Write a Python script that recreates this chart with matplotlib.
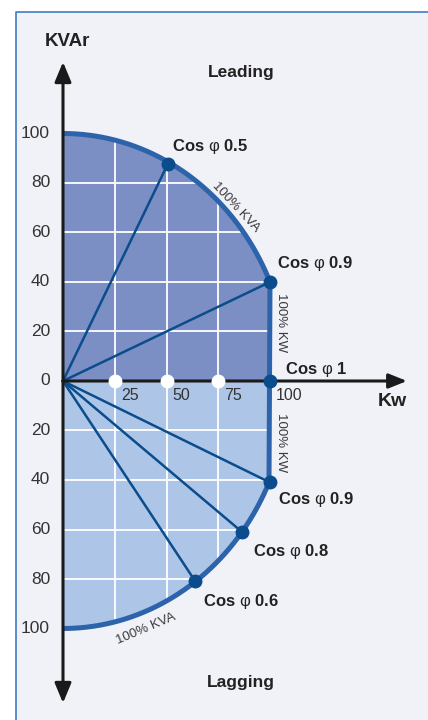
import numpy as np
import matplotlib
matplotlib.use("Agg")
import matplotlib.pyplot as plt
from matplotlib import font_manager
from matplotlib.patches import Polygon, Rectangle
from matplotlib.lines import Line2D

names = {f.name for f in font_manager.fontManager.ttflist}
narrow = "Liberation Sans Narrow" if "Liberation Sans Narrow" in names else "Liberation Sans"
plt.rcParams["font.family"] = [narrow, "DejaVu Sans"]
plt.rcParams["mathtext.fontset"] = "custom"
plt.rcParams["mathtext.it"] = narrow
plt.rcParams["mathtext.rm"] = narrow
plt.rcParams["mathtext.bf"] = narrow + ":bold"

# power factor points (kW, kVAr)
lead_pf = ["0.5", "0.9", "1"]
lead_kw = [50.7, 100, 100]
lead_kvar = [87.8, 40, 0]
lag_pf = ["0.9", "0.8", "0.6"]
lag_kw = [100, 86.5, 63.8]
lag_kvar = [-41, -61, -80.8]
kva_max = 100
kw_max = 100
x_ticks = [25, 50, 75, 100]
y_ticks = [100, 80, 60, 40, 20, 0, -20, -40, -60, -80, -100]
grid_x = [25, 50, 75]
grid_y = [80, 60, 40, 20, -20, -40, -60, -80]

W, H = 428, 720
x0, sx = 63, 2.07      # pixel of kW=0, pixels per kW
y0, sy = 381, 2.475    # pixel of kVAr=0, pixels per kVAr

bg = "#f1f2f8"
lead_col = "#7b8fc5"
lag_col = "#adc6e7"
edge_col = "#2d63ab"
ray_col = "#0b4c8c"
txt_col = "#222222"

fig = plt.figure(figsize=(W / 100, H / 100), dpi=100)
fig.patches.append(Rectangle((16 / W, 0), 1, 1 - 12 / H, transform=fig.transFigure,
                             facecolor=bg, edgecolor="none", zorder=-2))
fig.lines.append(Line2D([16 / W, 16 / W, 1], [0, 1 - 12 / H, 1 - 12 / H],
                        transform=fig.transFigure, color="#3f7cc2", lw=1.2, zorder=-1))

ax = fig.add_axes([0, 0, 1, 1])
ax.set_facecolor("none")
ax.set_xlim(-x0 / sx, (W - x0) / sx)
ax.set_ylim(-(H - y0) / sy, y0 / sy)
ax.axis("off")

# 100% kVA arc (stylised, meets the 100% kW line)
a = kw_max / np.sqrt(1 - (lead_kvar[1] / kva_max) ** 2)
t_lead = np.linspace(np.pi / 2, np.arcsin(lead_kvar[1] / kva_max), 120)
t_lag = np.linspace(np.arcsin(lag_kvar[0] / kva_max), -np.pi / 2, 120)
lead_arc = np.column_stack([a * np.cos(t_lead), kva_max * np.sin(t_lead)])
lag_arc = np.column_stack([a * np.cos(t_lag), kva_max * np.sin(t_lag)])

lead_poly = Polygon(np.vstack([[0, 0], lead_arc, [kw_max, 0]]), closed=True,
                    facecolor=lead_col, edgecolor="none", zorder=1)
lag_poly = Polygon(np.vstack([[0, 0], [kw_max, 0], lag_arc, [0, 0]]), closed=True,
                   facecolor=lag_col, edgecolor="none", zorder=1)
ax.add_patch(lead_poly)
ax.add_patch(lag_poly)

for patch in (lead_poly, lag_poly):
    for gx in grid_x:
        ln, = ax.plot([gx, gx], [-120, 120], color="white", lw=1.3, zorder=2)
        ln.set_clip_path(patch)
    for gy in grid_y:
        ln, = ax.plot([0, 120], [gy, gy], color="white", lw=1.3, zorder=2)
        ln.set_clip_path(patch)

# rays from origin
for kw, kv in zip(lead_kw[:2] + lag_kw, lead_kvar[:2] + lag_kvar):
    ax.plot([0, kw], [0, kv], color=ray_col, lw=1.8, zorder=3)

# boundary
bx = np.concatenate([lead_arc[:, 0], lag_arc[:, 0]])
by = np.concatenate([lead_arc[:, 1], lag_arc[:, 1]])
ax.plot(bx, by, color=edge_col, lw=3.6, zorder=4, solid_capstyle="butt")

# axes with arrows
ax.annotate("", xy=(0, (y0 - 62) / sy), xytext=(0, -(703 - y0) / sy),
            arrowprops=dict(arrowstyle="<|-|>,head_length=0.6,head_width=0.25",
                            color="#1a1a1a", lw=2.2, shrinkA=0, shrinkB=0,
                            mutation_scale=20), zorder=5)
ax.annotate("", xy=((407 - x0) / sx, 0), xytext=(0, 0),
            arrowprops=dict(arrowstyle="-|>,head_length=0.55,head_width=0.22",
                            color="#1a1a1a", lw=2.2, shrinkA=0, shrinkB=0,
                            mutation_scale=20), zorder=5)

# markers
ax.plot(grid_x, [0] * len(grid_x), "o", color="white", ms=9, mec="white", zorder=6)
ax.plot(lead_kw + lag_kw, lead_kvar + lag_kvar, "o", color=ray_col, ms=9, zorder=6)

# tick labels
for v in y_ticks:
    ax.annotate(str(abs(v)), xy=(0, v), xytext=(-13, 0), textcoords="offset pixels",
                ha="right", va="center", fontsize=12.5, color="#333333")
for v in x_ticks:
    ax.annotate(str(v), xy=(v, 0), xytext=(6, -15), textcoords="offset pixels",
                ha="left", va="center", fontsize=11.5, color="#333333")

# cos phi labels
lead_off = [(4, 17), (7, 18), (15, 11)]
lag_off = [(8, -17), (11, -20), (8, -21)]
for pf, kw, kv, off in zip(lead_pf + lag_pf, lead_kw + lag_kw, lead_kvar + lag_kvar,
                           lead_off + lag_off):
    ax.annotate("Cos $\\varphi$ " + pf, xy=(kw, kv), xytext=off, textcoords="offset pixels",
                ha="left", va="center", fontsize=12, fontweight="bold", color=txt_col,
                zorder=7)

def ftext(xp, yp, s, **kw):
    fig.text(xp / W, 1 - yp / H, s, ha="center", va="center", **kw)

ftext(67, 41, "KVAr", fontsize=13.5, fontweight="bold", color=txt_col)
ftext(241, 72, "Leading", fontsize=12.5, fontweight="bold", color=txt_col)
ftext(241, 682, "Lagging", fontsize=12.5, fontweight="bold", color=txt_col)
ftext(392, 402, "Kw", fontsize=14, fontweight="bold", color=txt_col)
ftext(236, 207, "100% KVA", fontsize=9.5, rotation=-47, color="#3a3a3a")
ftext(146, 629, "100% KVA", fontsize=9.5, rotation=23, color="#3a3a3a")
ftext(281, 323, "100% KW", fontsize=9.5, rotation=-90, color="#3a3a3a")
ftext(281, 443, "100% KW", fontsize=9.5, rotation=-90, color="#3a3a3a")

fig.savefig("out.png", dpi=100)
